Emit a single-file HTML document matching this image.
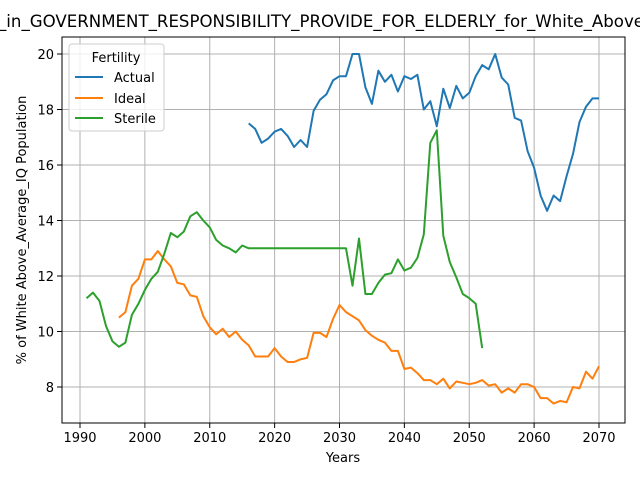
<!DOCTYPE html>
<html><head><meta charset="utf-8"><style>body{margin:0;background:#fff}svg{display:block;font-family:"DejaVu Sans","Liberation Sans",sans-serif}</style></head>
<body>
<svg id="chart" width="640" height="480" viewBox="0 0 640 480">
<rect x="0" y="0" width="640" height="480" fill="#fff"/>
<text x="-2" y="27" font-size="16.5" textLength="646" lengthAdjust="spacingAndGlyphs">_in_GOVERNMENT_RESPONSIBILITY_PROVIDE_FOR_ELDERLY_for_White_Above</text>
<g id="grid"></g>
<g id="series"></g>
<rect x="62" y="37" width="563" height="386" fill="none" stroke="#000" stroke-width="1"/>
<g id="ticks"></g>
<text x="343" y="462" font-size="13" text-anchor="middle">Years</text>
<text transform="translate(26,230) rotate(-90)" font-size="13" text-anchor="middle">% of White Above_Average_IQ Population</text>
<g>
<rect x="69" y="44" width="95" height="87" rx="3" fill="#fff" fill-opacity="0.8" stroke="#ccc"/>
<text x="116" y="62" font-size="13" text-anchor="middle">Fertility</text>
<line x1="75" y1="77" x2="103" y2="77" stroke="#1f77b4" stroke-width="2"/>
<text x="114" y="82" font-size="13">Actual</text>
<line x1="75" y1="98" x2="103" y2="98" stroke="#ff7f0e" stroke-width="2"/>
<text x="114" y="103" font-size="13">Ideal</text>
<line x1="75" y1="118" x2="103" y2="118" stroke="#2ca02c" stroke-width="2"/>
<text x="114" y="123" font-size="13">Sterile</text>
</g>
</svg>
<script>
const actualStart = 2016;
const actualValues = [17.5,17.3,16.8,16.95,17.2,17.3,17.05,16.65,16.9,16.65,17.95,18.35,18.55,19.05,19.2,19.2,20.0,20.0,18.8,18.2,19.4,19.0,19.25,18.65,19.2,19.1,19.25,18.0,18.3,17.4,18.75,18.05,18.85,18.4,18.6,19.2,19.6,19.45,20.0,19.15,18.9,17.7,17.6,16.5,15.9,14.9,14.35,14.9,14.7,15.6,16.4,17.55,18.1,18.4,18.4];
const idealStart = 1996;
const idealValues = [10.5,10.7,11.65,11.9,12.6,12.6,12.9,12.6,12.35,11.75,11.7,11.3,11.25,10.55,10.15,9.9,10.1,9.8,10.0,9.7,9.5,9.1,9.1,9.1,9.4,9.1,8.9,8.9,9.0,9.05,9.95,9.95,9.8,10.45,10.95,10.7,10.55,10.4,10.05,9.85,9.7,9.6,9.3,9.3,8.65,8.7,8.5,8.25,8.25,8.1,8.3,7.95,8.2,8.15,8.1,8.15,8.25,8.05,8.1,7.8,7.95,7.8,8.1,8.1,8.0,7.6,7.6,7.4,7.5,7.45,8.0,7.95,8.55,8.3,8.75];
const sterileStart = 1991;
const sterileValues = [11.2,11.4,11.1,10.2,9.65,9.45,9.6,10.6,11.0,11.5,11.9,12.15,12.8,13.55,13.4,13.6,14.15,14.3,14.0,13.75,13.3,13.1,13.0,12.85,13.1,13,13,13,13,13,13,13,13,13,13,13,13,13,13,13,13,11.65,13.35,11.35,11.35,11.75,12.05,12.1,12.6,12.2,12.3,12.65,13.5,16.8,17.25,13.45,12.5,11.95,11.35,11.2,11.0,9.4];
const xTicks = [1990,2000,2010,2020,2030,2040,2050,2060,2070];
const yTicks = [8,10,12,14,16,18,20];

const NS = 'http://www.w3.org/2000/svg';
function xs(yr){ return 80 + (yr - 1990) * (599 - 80) / 80; }
function ys(v){ return 387 - (v - 8) * (387 - 54) / 12; }
const grid = document.getElementById('grid');
const ticks = document.getElementById('ticks');
xTicks.forEach(t => {
  const l = document.createElementNS(NS,'line');
  l.setAttribute('x1', xs(t)); l.setAttribute('x2', xs(t)); l.setAttribute('y1', 37); l.setAttribute('y2', 423);
  l.setAttribute('stroke', '#b0b0b0'); l.setAttribute('stroke-width', '1');
  
  
  grid.appendChild(l);
  const tk = document.createElementNS(NS,'line');
  tk.setAttribute('x1', xs(t)); tk.setAttribute('x2', xs(t)); tk.setAttribute('y1', 423); tk.setAttribute('y2', 428);
  tk.setAttribute('stroke', '#000');
  
  
  ticks.appendChild(tk);
  const tx = document.createElementNS(NS,'text');
  tx.setAttribute('x', xs(t)); tx.setAttribute('y', 442); tx.setAttribute('font-size', '13'); tx.setAttribute('text-anchor', 'middle');
  tx.textContent = t;
  
  
  ticks.appendChild(tx);
});
yTicks.forEach(t => {
  const l = document.createElementNS(NS,'line');
  l.setAttribute('x1', 62); l.setAttribute('x2', 625); l.setAttribute('y1', ys(t)); l.setAttribute('y2', ys(t));
  l.setAttribute('stroke', '#b0b0b0'); l.setAttribute('stroke-width', '1');
  
  
  grid.appendChild(l);
  const tk = document.createElementNS(NS,'line');
  tk.setAttribute('x1', 57); tk.setAttribute('x2', 62); tk.setAttribute('y1', ys(t)); tk.setAttribute('y2', ys(t));
  tk.setAttribute('stroke', '#000');
  
  
  ticks.appendChild(tk);
  const tx = document.createElementNS(NS,'text');
  tx.setAttribute('x', 54); tx.setAttribute('y', ys(t) + 5); tx.setAttribute('font-size', '13'); tx.setAttribute('text-anchor', 'end');
  tx.textContent = t;
  
  
  ticks.appendChild(tx);
});
const series = document.getElementById('series');
function drawLine(start, vals, color, name){
  const p = document.createElementNS(NS,'polyline');
  p.setAttribute('points', vals.map((v,i) => xs(start + i).toFixed(1) + ',' + ys(v).toFixed(1)).join(' '));
  p.setAttribute('fill', 'none'); p.setAttribute('stroke', color); p.setAttribute('stroke-width', '2');
  p.setAttribute('stroke-linejoin', 'round');
  
  
  series.appendChild(p);
}
drawLine(actualStart, actualValues, '#1f77b4', 'actual-line');
drawLine(idealStart, idealValues, '#ff7f0e', 'ideal-line');
drawLine(sterileStart, sterileValues, '#2ca02c', 'sterile-line');
</script>
</body></html>
